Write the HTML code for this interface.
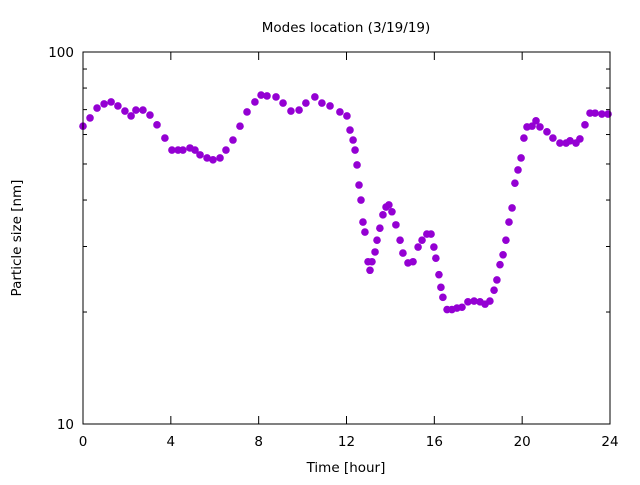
<!DOCTYPE html>
<html><head><meta charset="utf-8"><style>
body{margin:0;background:#fff}
svg text{font-family:"DejaVu Sans","Liberation Sans",sans-serif;font-size:13.5px;fill:#000}
</style></head><body>
<svg id="chart" width="640" height="480" xmlns="http://www.w3.org/2000/svg">
<rect width="640" height="480" fill="#fff"/>
<text x="346" y="32" text-anchor="middle">Modes location (3/19/19)</text>
<text x="346" y="472" text-anchor="middle">Time [hour]</text>
<text transform="translate(21,238) rotate(-90)" text-anchor="middle">Particle size [nm]</text>
<g id="axes"></g>
<g id="points"></g>
<rect x="83" y="52" width="527" height="372" fill="none" stroke="#000" stroke-width="1"/>
</svg>
<script>
const hours = [0,0.32,0.64,0.96,1.28,1.59,1.91,2.19,2.41,2.73,3.05,3.37,3.73,4.05,4.33,4.55,4.87,5.10,5.33,5.65,5.92,6.24,6.51,6.83,7.15,7.47,7.83,8.11,8.38,8.79,9.11,9.47,9.84,10.15,10.56,10.88,11.25,11.70,12.02,12.16,12.30,12.39,12.48,12.57,12.66,12.75,12.84,12.98,13.07,13.16,13.30,13.39,13.52,13.66,13.80,13.93,14.07,14.25,14.44,14.57,14.80,15.03,15.26,15.44,15.66,15.85,15.98,16.07,16.21,16.30,16.39,16.58,16.80,17.03,17.26,17.53,17.81,18.08,18.31,18.53,18.72,18.85,18.99,19.13,19.26,19.40,19.54,19.67,19.81,19.95,20.08,20.22,20.45,20.63,20.81,21.13,21.40,21.72,22.00,22.18,22.45,22.63,22.86,23.09,23.32,23.63,23.91];
const sizes = [63.2,66.5,70.7,72.5,73.4,71.6,69.4,67.3,69.8,69.8,67.7,63.7,58.7,54.5,54.5,54.5,55.2,54.5,52.9,51.9,51.3,51.9,54.5,58.0,63.2,69.0,73.4,76.6,76.2,75.7,72.9,69.4,69.8,72.9,75.7,72.9,71.6,69.0,67.3,61.7,58.0,54.5,49.7,43.9,40.0,34.9,32.8,27.3,25.9,27.3,29.0,31.2,33.6,36.5,38.3,38.8,37.2,34.3,31.2,28.8,27.1,27.3,29.9,31.2,32.4,32.4,29.9,27.9,25.2,23.3,21.9,20.3,20.3,20.5,20.6,21.3,21.4,21.3,21.0,21.4,22.9,24.4,26.8,28.5,31.2,34.9,38.1,44.4,48.2,51.9,58.7,62.9,63.2,65.3,62.9,61.0,58.7,56.9,56.9,57.7,56.9,58.4,63.7,68.5,68.5,68.1,68.1];
const xTicks = [0,4,8,12,16,20,24];
const yMajor = [10,100];
const yMinor = [20,30,40,50,60,70,80,90];
const L=83,R=610,T=52,B=424;
const xs = h => L + (h/24)*(R-L);
const ys = v => B - (Math.log10(v)-1)*(B-T);
const NS="http://www.w3.org/2000/svg";
const axes=document.getElementById('axes'), pts=document.getElementById('points');
function line(x1,y1,x2,y2,name){const l=document.createElementNS(NS,'line');
l.setAttribute('x1',x1);l.setAttribute('y1',y1);l.setAttribute('x2',x2);l.setAttribute('y2',y2);
l.setAttribute('stroke','#000');


axes.appendChild(l);}
function text(x,y,s,anchor,name){const t=document.createElementNS(NS,'text');
t.setAttribute('x',x);t.setAttribute('y',y);t.setAttribute('text-anchor',anchor);t.textContent=s;


axes.appendChild(t);}
xTicks.forEach(h=>{const x=xs(h);line(x,B,x,B-8,'x-tick');line(x,T,x,T+8,'x-tick-mirror');text(x,446,String(h),'middle','x-tick-label');});
yMajor.forEach(v=>{const y=ys(v);line(L,y,L+8,y,'y-tick');line(R,y,R-8,y,'y-tick-mirror');text(L-9,y+5,String(v),'end','y-tick-label');});
yMinor.forEach(v=>{const y=ys(v);line(L,y,L+4,y,'y-minor-tick');line(R,y,R-4,y,'y-minor-tick-mirror');});
hours.forEach((h,i)=>{const c=document.createElementNS(NS,'circle');
c.setAttribute('cx',xs(h));c.setAttribute('cy',ys(sizes[i]));c.setAttribute('r',3.8);c.setAttribute('fill','#9400d3');


pts.appendChild(c);});
</script>
</body></html>
